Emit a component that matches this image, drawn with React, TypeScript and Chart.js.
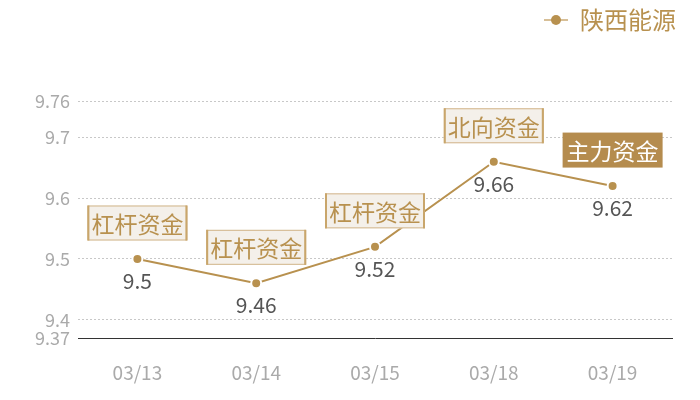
import { useEffect, useRef } from 'react'
import { Chart, registerables } from 'chart.js'

Chart.register(...registerables)

const dates = ['03/13', '03/14', '03/15', '03/18', '03/19']
const prices = [9.5, 9.46, 9.52, 9.66, 9.62]
const flowTags = ['杠杆资金', '杠杆资金', '杠杆资金', '北向资金', '主力资金']
const highlightTag = [false, false, false, false, true]
const yTicks = [9.37, 9.4, 9.5, 9.6, 9.7, 9.76]

const GOLD = '#b8914f'
const FONT = '"Noto Sans CJK SC", "Noto Sans", sans-serif'

// little line-with-dot marker for the legend
const makeLegendMarker = () => {
  const c = document.createElement('canvas')
  c.width = 24
  c.height = 12
  const ctx = c.getContext('2d')
  ctx.strokeStyle = '#d7bf97'
  ctx.lineWidth = 2
  ctx.beginPath()
  ctx.moveTo(0, 6)
  ctx.lineTo(24, 6)
  ctx.stroke()
  ctx.fillStyle = GOLD
  ctx.beginPath()
  ctx.arc(12, 6, 5, 0, Math.PI * 2)
  ctx.fill()
  return c
}

const legendSpacer = {
  id: 'legendSpacer',
  beforeInit(chart) {
    const fit = chart.legend.fit
    chart.legend.fit = function () {
      fit.bind(chart.legend)()
      this.height += 59
    }
  },
  afterLayout(chart) {
    // push the legend closer to the right edge
    chart.legend.left += 12
    chart.legend.right += 12
  }
}

const pointLabels = {
  id: 'pointLabels',
  afterDatasetsDraw(chart) {
    const ctx = chart.ctx
    const meta = chart.getDatasetMeta(0)
    ctx.save()
    meta.data.forEach((pt, i) => {
      // value under the point
      ctx.font = `21px ${FONT}`
      ctx.fillStyle = '#555'
      ctx.textAlign = 'center'
      ctx.textBaseline = 'middle'
      ctx.fillText(String(prices[i]), pt.x, pt.y + 22)

      // tag box above the point
      const w = 100
      const h = 35
      const x = pt.x - w / 2
      const y = pt.y - 36 - h / 2
      if (highlightTag[i]) {
        ctx.fillStyle = '#b58c4e'
        ctx.fillRect(x, y, w, h)
      } else {
        ctx.fillStyle = '#f4f0ea'
        ctx.fillRect(x, y, w, h)
        ctx.strokeStyle = '#d2b58a'
        ctx.lineWidth = 1
        ctx.strokeRect(x + 0.5, y + 0.5, w - 1, h - 1)
        ctx.fillStyle = '#c9a66b'
        ctx.fillRect(x, y, 2, h)
        ctx.fillRect(x + w - 2, y, 2, h)
      }
      ctx.font = `23px ${FONT}`
      ctx.fillStyle = highlightTag[i] ? '#fff' : GOLD
      ctx.fillText(flowTags[i], pt.x, y + h / 2 + 1)
    })
    ctx.restore()
  }
}

const App = () => {
  const chartRef = useRef(null)
  const chartInstance = useRef(null)

  useEffect(() => {
    if (chartRef && chartRef.current) {
      const ctx = chartRef.current.getContext('2d')
      if (chartInstance.current) {
        chartInstance.current.destroy()
      }
      const marker = makeLegendMarker()

      chartInstance.current = new Chart(ctx, {
        type: 'line',
        data: {
          labels: dates,
          datasets: [
            {
              label: '陕西能源',
              data: prices,
              borderColor: GOLD,
              backgroundColor: GOLD,
              borderWidth: 2,
              pointRadius: 5,
              pointBorderColor: '#fff',
              pointBorderWidth: 2,
              pointBackgroundColor: GOLD,
              tension: 0,
              fill: false
            }
          ]
        },
        options: {
          animation: false,
          responsive: true,
          maintainAspectRatio: false,
          layout: {
            padding: { top: 0, right: 28, bottom: 0, left: 0 }
          },
          plugins: {
            tooltip: { enabled: false },
            legend: {
              position: 'top',
              align: 'end',
              labels: {
                usePointStyle: true,
                pointStyleWidth: 24,
                color: GOLD,
                font: { size: 24, family: FONT },
                padding: 8,
                generateLabels: (chart) => [
                  {
                    text: chart.data.datasets[0].label,
                    pointStyle: marker,
                    fontColor: GOLD,
                    datasetIndex: 0
                  }
                ]
              }
            }
          },
          scales: {
            x: {
              offset: true,
              grid: { display: false, drawTicks: false },
              border: { display: true, color: '#333', width: 1 },
              ticks: {
                color: '#aaa',
                font: { size: 19, family: FONT },
                padding: 23
              },
              afterFit: (scale) => {
                scale.height = 62
              }
            },
            y: {
              min: 9.37,
              max: 9.76,
              border: { display: false, dash: [2, 2] },
              grid: {
                drawTicks: false,
                color: (c) => (c.tick && c.tick.value === 9.37 ? 'rgba(0,0,0,0)' : '#c8c8c8'),
                lineWidth: 1
              },
              ticks: {
                color: '#aaa',
                font: { size: 18, family: FONT },
                padding: 8,
                callback: (v) => String(v)
              },
              afterBuildTicks: (scale) => {
                scale.ticks = yTicks.map((v) => ({ value: v }))
              },
              afterFit: (scale) => {
                scale.width = 78
              }
            }
          }
        },
        plugins: [legendSpacer, pointLabels]
      })
    }

    return () => {
      if (chartInstance.current) {
        chartInstance.current.destroy()
      }
    }
  }, [])

  return (
    <div style={{ position: 'absolute', left: 0, top: 0, width: 700, height: 400, background: '#fff' }}>
      <canvas ref={chartRef} />
    </div>
  )
}

export default App
